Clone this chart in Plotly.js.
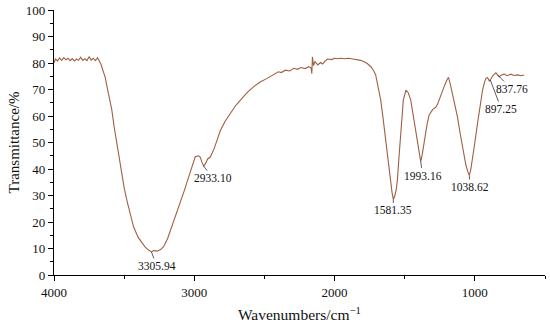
<!DOCTYPE html>
<html>
<head>
<meta charset="utf-8">
<script src="https://cdn.plot.ly/plotly-3.0.1.min.js"></script>
<style>html,body{margin:0;padding:0;background:#fff;}#chart{width:550px;height:328px;}</style>
</head>
<body>
<div id="chart"></div>
<script>
const wavenumber = [4000,3990,3975,3960,3945,3930,3915,3900,3885,3870,3855,3840,3825,3810,3795,3780,3765,3750,3735,3720,3705,3690,3680,3665,3650,3636,3620,3600,3588,3570,3552,3535,3517,3500,3481,3460,3433,3400,3374,3350,3326,3305,3290,3266,3240,3219,3190,3160,3130,3100,3070,3040,3015,2993,2970,2957,2945,2933,2920,2905,2886,2860,2840,2814,2780,2743,2710,2671,2620,2576,2530,2481,2440,2400,2380,2350,2320,2290,2266,2240,2210,2185,2168,2162,2158,2150,2140,2120,2100,2085,2070,2050,2020,2000,1980,1957,1930,1900,1870,1840,1814,1790,1767,1740,1720,1707,1690,1671,1655,1636,1620,1605,1590,1581,1570,1560,1552,1540,1529,1510,1491,1475,1457,1440,1421,1400,1393,1386,1375,1357,1340,1326,1300,1279,1265,1255,1240,1219,1200,1188,1175,1160,1140,1124,1105,1088,1064,1050,1040,1030,1017,1000,981,963,945,930,921,910,897,890,874,860,850,838,826,810,790,770,743,720,695,670,648];
const transmittance = [80.0,81.5,80.8,81.9,81.0,82.0,81.2,81.8,80.9,81.7,80.8,81.5,81.0,82.2,81.0,81.6,80.9,82.4,81.1,81.8,80.9,82.0,81.0,79.5,77.0,74.8,70.5,65.5,62.3,55.5,49.7,43.5,38.4,33.0,28.3,23.5,18.2,14.2,12.0,10.5,9.4,8.7,9.2,9.0,9.6,10.7,13.8,18.2,22.5,27.0,32.0,37.0,41.5,44.6,45.0,44.4,42.5,41.1,42.0,43.8,44.5,47.5,50.5,54.5,58.0,61.0,63.6,66.0,69.0,71.1,72.8,74.2,75.5,76.7,76.4,77.3,77.0,78.0,77.6,78.3,77.9,78.6,78.2,76.0,82.3,79.0,80.5,79.3,80.2,79.6,80.6,81.5,81.3,81.8,81.6,81.8,81.6,81.8,81.5,81.3,81.0,80.5,79.8,78.5,77.0,75.5,71.5,66.0,59.5,51.0,43.5,37.1,31.0,28.5,30.0,32.5,36.0,45.0,53.5,66.0,69.8,68.8,66.0,60.0,53.5,46.0,43.5,42.8,45.5,52.2,57.0,60.4,62.5,63.3,64.5,66.0,68.5,71.1,73.5,74.6,72.0,68.6,64.0,59.7,53.5,48.4,41.5,39.0,37.7,39.5,43.4,50.0,57.2,64.0,69.8,73.0,74.2,74.5,73.2,73.6,75.1,75.8,76.3,75.5,74.8,75.5,75.8,75.2,75.8,75.3,75.5,75.2,75.5];

const peakLabels = ["3305.94","2933.10","1581.35","1993.16","1038.62","897.25","837.76"];
const peakX = [3305,2933,1581,1386,1040,890,838];
const labelOffsetX = [5,9,0,2,1,11,14];
const labelOffsetY = [14,12,11,14,12,29,14];

const fontFam = "Liberation Serif, Times New Roman, serif";

function yAt(x){
  const i = wavenumber.indexOf(x);
  return transmittance[i];
}

const annotations = peakLabels.map((t,i)=>({
  x: peakX[i], y: yAt(peakX[i]), xref:'x', yref:'y',
  text: t, showarrow: true, arrowhead: 0, arrowwidth: 0.8, arrowcolor: '#333',
  ax: labelOffsetX[i], ay: labelOffsetY[i], standoff: 0, startstandoff: 0,
  font: {family: fontFam, size: 11.5, color: '#111'}
}));

const trace = {
  x: wavenumber, y: transmittance, type: 'scatter', mode: 'lines',
  line: {color: '#a05f44', width: 1.1}, hoverinfo: 'skip'
};

const layout = {
  width: 550, height: 328,
  margin: {l: 54, r: 5, t: 10, b: 53},
  paper_bgcolor: '#fff', plot_bgcolor: '#fff',
  showlegend: false,
  font: {family: fontFam, color: '#111'},
  xaxis: {
    range: [4000, 500], tickvals: [4000,3000,2000,1000], ticktext: ["4000","3000","2000","1000"],
    ticks: 'outside', ticklen: 5, tickwidth: 1, tickcolor: '#000',
    showline: true, linecolor: '#000', linewidth: 1.2, showgrid: false, zeroline: false,
    tickfont: {family: fontFam, size: 13, color: '#111'},
    minor: {ticks: 'outside', ticklen: 3, tickcolor: '#000', tickvals: [3500,2500,1500,500], showgrid: false},
    title: {text: 'Wavenumbers/cm<sup>−1</sup>', font: {family: fontFam, size: 15.5, color: '#111'}, standoff: 10}
  },
  yaxis: {
    range: [0, 100], dtick: 10, tick0: 0,
    ticks: 'outside', ticklen: 5, tickwidth: 1, tickcolor: '#000',
    showline: true, linecolor: '#000', linewidth: 1.2, showgrid: false, zeroline: false,
    tickfont: {family: fontFam, size: 13, color: '#111'},
    minor: {ticks: 'outside', ticklen: 3, tickcolor: '#000', dtick: 5, showgrid: false},
    title: {text: 'Transmittance/%', font: {family: fontFam, size: 15, color: '#111'}, standoff: 2}
  },
  annotations: annotations
};

Plotly.newPlot('chart', [trace], layout, {staticPlot: true, displayModeBar: false});
</script>
</body>
</html>
